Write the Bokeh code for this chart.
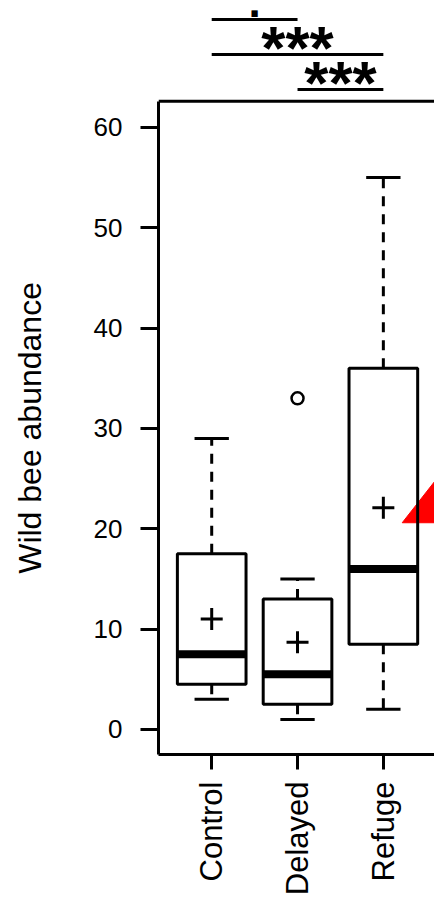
import math
import numpy as np
from bokeh.plotting import figure
from bokeh.models import Range1d, FixedTicker, LinearAxis, ColumnDataSource
from bokeh.layouts import row
from bokeh.embed import file_html
from bokeh.resources import INLINE
from bokeh.core.properties import value

# ---------------- data ----------------
categories = ["Control", "Delayed", "Refuge"]
whisker_low = [3, 1, 2]
q1 = [4.5, 2.5, 8.5]
medians = [7.5, 5.5, 16]
q3 = [17.5, 13, 36]
whisker_high = [29, 15, 55]
means = [11, 8.7, 22.1]
outlier_cat = ["Delayed"]
outlier_val = [33]
y_ticks = [0, 10, 20, 30, 40, 50, 60]
y_label = "Wild bee abundance"

# significance brackets (pairs of groups, label, stacking level)
sig_from = ["Control", "Control", "Delayed"]
sig_to = ["Delayed", "Refuge", "Refuge"]
sig_text = [".", "***", "***"]
sig_level = [2, 1, 0]

# red arrow-head marker on the right edge (x in group units, y in data units)
arrow_x = [3.22, 4.0, 4.0]
arrow_y = [20.6, 29.1, 20.6]

FONT = "Liberation Sans"
LW = 3

pos = {c: i + 1 for i, c in enumerate(categories)}
xs = np.array([pos[c] for c in categories], dtype=float)
half_box = 0.4
half_cap = 0.2

# layout of the plotting box (R style)
xlim = (0.38, 3.596)
ylim = (-2.5, 62.6)
W, H = 434, 898
lab_w = 60
left_px, bottom_px, head_px = 158, 143, 101
box_h_px = H - bottom_px - head_px
units_per_px = (ylim[1] - ylim[0]) / box_h_px
y_top = ylim[1] + head_px * units_per_px

src = ColumnDataSource(dict(
    x=xs, left=xs - half_box, right=xs + half_box,
    cl=xs - half_cap, cr=xs + half_cap,
    wl=whisker_low, q1=q1, med=medians, q3=q3, wh=whisker_high, mean=means,
))

y_range = Range1d(ylim[0], y_top)

p = figure(width=W - lab_w, height=H, x_range=Range1d(*xlim), y_range=y_range,
           x_axis_type=None, y_axis_type=None,
           output_backend="svg", toolbar_location=None,
           min_border_left=left_px - lab_w, min_border_right=0, min_border_top=0,
           min_border_bottom=bottom_px)
p.outline_line_color = None
p.background_fill_color = "white"
p.border_fill_color = "white"

# arrow-head annotation (drawn beneath boxes)
p.patch(arrow_x, arrow_y, fill_color="red", line_color="red")

# top edge of the plotting box
p.segment(x0=[xlim[0]], y0=[ylim[1]], x1=[xlim[1]], y1=[ylim[1]],
          line_color="black", line_width=LW)

# whiskers
p.segment(x0="x", y0="q3", x1="x", y1="wh", source=src, line_color="black",
          line_width=LW, line_dash="10 8")
p.segment(x0="x", y0="q1", x1="x", y1="wl", source=src, line_color="black",
          line_width=LW, line_dash="10 8")
# caps
p.segment(x0="cl", y0="wh", x1="cr", y1="wh", source=src, line_color="black", line_width=LW)
p.segment(x0="cl", y0="wl", x1="cr", y1="wl", source=src, line_color="black", line_width=LW)
# boxes
p.quad(left="left", right="right", bottom="q1", top="q3", source=src,
       fill_color=None, line_color="black", line_width=LW)
# medians
p.segment(x0="left", y0="med", x1="right", y1="med", source=src, line_color="black",
          line_width=8, line_cap="butt")
# means
p.scatter(x="x", y="mean", source=src, marker="cross", size=22, line_width=LW,
          line_color="black")
# outliers
p.scatter(x=[pos[c] for c in outlier_cat], y=outlier_val, marker="circle", size=12,
          fill_color=None, line_color="black", line_width=2.5)

# significance brackets above the box
level_base = ylim[1] + 12 * units_per_px
level_step = 35 * units_per_px
sx0 = [pos[a] for a in sig_from]
sx1 = [pos[b] for b in sig_to]
mid = [(a + b) / 2 for a, b in zip(sx0, sx1)]
sy = [level_base + l * level_step for l in sig_level]
ssrc = ColumnDataSource(dict(x0=sx0, x1=sx1, y=sy, mid=mid, text=sig_text))
p.segment(x0="x0", y0="y", x1="x1", y1="y", source=ssrc, line_color="black", line_width=LW)

dots = [i for i, s in enumerate(sig_text) if s == "."]
stars = [i for i, s in enumerate(sig_text) if s != "."]
p.text(x=[mid[i] for i in stars], y=[sy[i] for i in stars], text=[sig_text[i] for i in stars],
       y_offset=-7, text_font=value(FONT), text_font_size="62px", text_font_style="bold",
       text_align="center", text_baseline="middle", text_color="black")
p.text(x=[mid[i] for i in dots], y=[sy[i] for i in dots], text=[sig_text[i] for i in dots],
       y_offset=-18, text_font=value(FONT), text_font_size="44px", text_font_style="bold",
       text_align="center", text_baseline="middle", text_color="black")

# axes
yax = LinearAxis(ticker=FixedTicker(ticks=y_ticks), bounds=ylim)
yax.major_tick_out = 18
yax.major_tick_in = 0
yax.minor_tick_out = 0
yax.minor_tick_in = 0
yax.major_tick_line_width = LW
yax.axis_line_width = LW
yax.major_label_text_font = FONT
yax.major_label_text_font_size = "26px"
yax.major_label_text_color = "black"
yax.major_label_standoff = 18
p.add_layout(yax, "left")

xax = LinearAxis(ticker=FixedTicker(ticks=list(xs)))
xax.major_label_overrides = {pos[c]: c for c in categories}
xax.major_tick_out = 15
xax.major_tick_in = 0
xax.minor_tick_out = 0
xax.minor_tick_in = 0
xax.major_tick_line_width = LW
xax.axis_line_width = LW
xax.major_label_orientation = math.pi / 2
xax.major_label_text_font = FONT
xax.major_label_text_font_size = "31px"
xax.major_label_text_color = "black"
xax.major_label_standoff = 12
p.add_layout(xax, "below")

# ---------------- y-axis title strip (centred on the plotting box) ----------------
lab = figure(width=lab_w, height=H, x_range=Range1d(0, lab_w), y_range=y_range,
             x_axis_type=None, y_axis_type=None,
             output_backend="svg", toolbar_location=None,
             min_border_left=0, min_border_right=0, min_border_top=0, min_border_bottom=0)
lab.outline_line_color = None
lab.background_fill_color = "white"
lab.border_fill_color = "white"
lab.text(x=[29], y=[(ylim[0] + ylim[1]) / 2], text=[y_label], angle=math.pi / 2,
         text_font=value(FONT), text_font_size="32px", text_color="black",
         text_align="center", text_baseline="middle")

layout = row(lab, p, spacing=0)
open("out.html", "w").write(file_html(layout, INLINE))
